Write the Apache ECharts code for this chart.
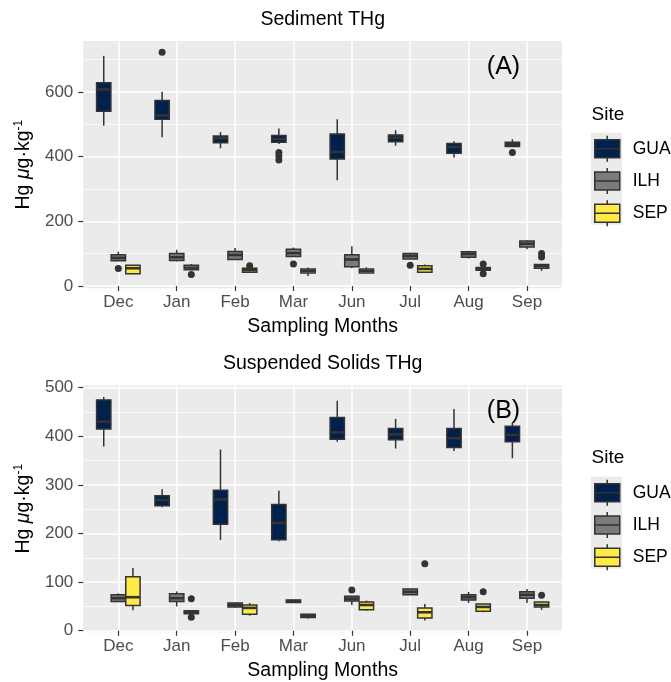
<!DOCTYPE html>
<html>
<head>
<meta charset="utf-8">
<script src="https://cdn.jsdelivr.net/npm/echarts@6/dist/echarts.min.js"></script>
<style>html,body{margin:0;padding:0;background:#fff}#c{width:671px;height:682px}</style>
</head>
<body>
<div id="c"></div>
<script>
// ---------- data ----------
const months = ['Dec', 'Jan', 'Feb', 'Mar', 'Jun', 'Jul', 'Aug', 'Sep'];
const sites = ['GUA', 'ILH', 'SEP'];
const yTicksA = [0, 200, 400, 600];
const yTicksB = [0, 100, 200, 300, 400, 500];

// five-number boxes: [lower whisker, Q1, median, Q3, upper whisker], one per month
const sedGUA = [[496,541,608,629,712],[460,516,528,574,601],[426,443,457,464,476],[439,445,455,466,487],
                [327,393,415,470,516],[434,446,459,467,482],[398,411,430,441,448],[432,432,438,445,454]];
const sedILH = [[78,78,87,97,106],[76,79,89,101,112],[82,82,96,107,118],[91,91,102,114,119],
                [55,60,82,97,123],[83,84,93,101,103],[85,89,99,106,109],[114,121,131,139,142]];
const sedSEP = [[38,38,55,64,64],[50,50,57,64,68],[43,43,49,55,55],[31,40,47,53,57],
                [40,40,47,53,58],[42,43,53,63,67],[46,49,53,57,60],[47,55,61,67,67]];
const sedGUAOut = [['Jan',723],['Mar',413],['Mar',402],['Mar',390],['Sep',413]];
const sedILHOut = [['Dec',54],['Mar',68],['Jul',64]];
const sedSEPOut = [['Jan',36],['Feb',63],['Aug',68],['Aug',38],['Sep',101],['Sep',90]];

const ssGUA = [[379,415,430,475,481],[254,257,269,278,291],[187,219,270,289,373],[184,187,222,260,288],
               [389,394,408,439,473],[375,393,404,416,436],[370,377,396,416,456],[355,389,403,421,428]];
const ssILH = [[60,60,67,74,77],[50,60,67,76,81],[48,49,53,57,58],[57,58,61,63,64],
               [53,61,66,71,71],[74,74,80,86,86],[57,63,69,74,80],[57,67,74,80,86]];
const ssSEP = [[42,52,69,111,129],[35,35,38,41,41],[31,34,47,53,57],[25,27,31,34,34],
               [41,43,53,59,62],[21,26,38,47,55],[38,40,49,55,55],[43,49,53,59,59]];
const ssGUAOut = [];
const ssILHOut = [['Jun',84]];
const ssSEPOut = [['Jan',66],['Jan',28],['Jul',138],['Aug',80],['Sep',73]];

// ---------- styling ----------
const FONT = 'Liberation Sans, Arial, Helvetica, sans-serif';
const fills = {GUA: '#00204D', ILH: '#7C7B78', SEP: '#FFEA46'};
const dodge = {GUA: -0.25, ILH: 0, SEP: 0.25};
const BOX_W = 0.245;
const OUTLINE = '#333333';

function renderBox(fill) {
  return function (params, api) {
    const x = api.value(0);
    const pLo = api.coord([x, api.value(1)]);
    const pQ1 = api.coord([x, api.value(2)]);
    const pMed = api.coord([x, api.value(3)]);
    const pQ3 = api.coord([x, api.value(4)]);
    const pHi = api.coord([x, api.value(5)]);
    const w = api.size([BOX_W, 0])[0];
    const cx = pMed[0];
    const ls = {stroke: OUTLINE, lineWidth: 1.5};
    return {type: 'group', children: [
      {type: 'line', shape: {x1: cx, y1: pHi[1], x2: cx, y2: pQ3[1]}, style: ls},
      {type: 'line', shape: {x1: cx, y1: pQ1[1], x2: cx, y2: pLo[1]}, style: ls},
      {type: 'rect', shape: {x: cx - w / 2, y: pQ3[1], width: w, height: pQ1[1] - pQ3[1]},
       style: {fill: fill, stroke: OUTLINE, lineWidth: 1.5}},
      {type: 'line', shape: {x1: cx - w / 2, y1: pMed[1], x2: cx + w / 2, y2: pMed[1]},
       style: {stroke: OUTLINE, lineWidth: 2.6}}
    ]};
  };
}

function boxSeries(site, boxes, gridIdx) {
  return {
    type: 'custom', name: site, xAxisIndex: gridIdx, yAxisIndex: gridIdx,
    renderItem: renderBox(fills[site]),
    itemStyle: {color: fills[site]},
    encode: {x: 0, y: [1, 2, 3, 4, 5]},
    data: boxes.map((b, i) => [i + 1 + dodge[site]].concat(b)),
    z: 2
  };
}
function outSeries(site, outs, gridIdx) {
  return {
    type: 'scatter', name: site + ' outliers', xAxisIndex: gridIdx, yAxisIndex: gridIdx,
    symbolSize: 7, itemStyle: {color: OUTLINE, opacity: 1},
    data: outs.map(o => [months.indexOf(o[0]) + 1 + dodge[site], o[1]]),
    z: 3
  };
}

const monthPos = months.map((m, i) => i + 1);

function xAxis(gridIdx) {
  return {
    type: 'value', gridIndex: gridIdx, min: 0.4, max: 8.6, splitNumber: 8,
    axisLine: {show: false},
    axisTick: {show: true, customValues: monthPos, length: 5, lineStyle: {color: OUTLINE, width: 1.2}},
    axisLabel: {customValues: monthPos, formatter: v => months[Math.round(v) - 1] || '',
                color: '#4D4D4D', fontSize: 17, margin: 6, fontFamily: FONT},
    splitLine: {show: true, lineStyle: {color: '#FFFFFF', width: 1.5}},
    name: 'Sampling Months', nameLocation: 'middle', nameGap: 28,
    nameTextStyle: {color: '#000', fontSize: 19.5, fontFamily: FONT}
  };
}
const yName = '{n|Hg }{i|\u03BC}{n|g\u00B7kg}{s|-1}';
const yRich = {
  n: {fontSize: 19.5, color: '#000', fontFamily: FONT},
  i: {fontSize: 19.5, color: '#000', fontStyle: 'italic', fontFamily: FONT},
  s: {fontSize: 12, color: '#000', fontFamily: FONT, padding: [0, 0, 10, 0]}
};
function yAxis(gridIdx, min, max, ticks) {
  return {
    type: 'value', gridIndex: gridIdx, min: min, max: max, splitNumber: 5,
    axisLine: {show: false},
    axisTick: {show: true, customValues: ticks, length: 5, lineStyle: {color: OUTLINE, width: 1.2}},
    axisLabel: {customValues: ticks, color: '#4D4D4D', fontSize: 17, margin: 10, fontFamily: FONT},
    splitLine: {show: true, lineStyle: {color: '#FFFFFF', width: 1.5}},
    minorTick: {show: false, splitNumber: 2},
    minorSplitLine: {show: true, lineStyle: {color: '#FFFFFF', width: 0.8}},
    name: yName, nameLocation: 'middle', nameRotate: 90, nameGap: 46,
    nameTextStyle: {rich: yRich}
  };
}

const legendIcon = 'path://M12.5,0L12.5,4M0,4L25,4L25,22L0,22ZM0,13L25,13M12.5,22L12.5,26';
function legend(top) {
  return {
    orient: 'vertical', left: 594, top: top, padding: 0,
    itemWidth: 25, itemHeight: 26, itemGap: 4.7,
    icon: legendIcon, data: sites,
    itemStyle: {borderColor: OUTLINE, borderWidth: 1.5},
    textStyle: {fontSize: 17.5, color: '#000', fontFamily: FONT, padding: [0, 0, 0, 8]},
    selectedMode: false
  };
}

function txt(x, y, s, size, align) {
  return {type: 'text', x: x, y: y, z: 10,
          style: {text: s, fontSize: size, fontFamily: FONT, fill: '#000',
                  textAlign: align || 'center', align: align || 'center',
                  textVerticalAlign: 'middle', verticalAlign: 'middle'}};
}

const option = {
  animation: false,
  backgroundColor: '#FFFFFF',
  textStyle: {fontFamily: FONT},
  grid: [
    {left: 83.3, top: 41, width: 478.7, height: 247.3, show: true, backgroundColor: '#EBEBEB',
     borderWidth: 0, containLabel: false, outerBoundsMode: 'none'},
    {left: 83.3, top: 385.3, width: 478.7, height: 246.9, show: true, backgroundColor: '#EBEBEB',
     borderWidth: 0, containLabel: false, outerBoundsMode: 'none'}
  ],
  xAxis: [xAxis(0), xAxis(1)],
  yAxis: [yAxis(0, -7, 758, yTicksA), yAxis(1, -3, 505, yTicksB)],
  legend: [legend(135), legend(479)],
  graphic: [
    {type: 'rect', shape: {x: 591, y: 132.7, width: 31, height: 92}, style: {fill: '#EBEBEB'}, z: 0},
    {type: 'rect', shape: {x: 591, y: 476.7, width: 31, height: 92}, style: {fill: '#EBEBEB'}, z: 0},
    txt(322.7, 20, 'Sediment THg', 19.5),
    txt(322.7, 364, 'Suspended Solids THg', 19.5),
    txt(591.5, 115, 'Site', 19, 'left'),
    txt(591.5, 458, 'Site', 19, 'left'),
    txt(503.5, 67, '(A)', 25),
    txt(503.5, 410.7, '(B)', 25)
  ],
  series: [
    boxSeries('GUA', sedGUA, 0), boxSeries('ILH', sedILH, 0), boxSeries('SEP', sedSEP, 0),
    boxSeries('GUA', ssGUA, 1), boxSeries('ILH', ssILH, 1), boxSeries('SEP', ssSEP, 1),
    outSeries('GUA', sedGUAOut, 0), outSeries('ILH', sedILHOut, 0), outSeries('SEP', sedSEPOut, 0),
    outSeries('GUA', ssGUAOut, 1), outSeries('ILH', ssILHOut, 1), outSeries('SEP', ssSEPOut, 1)
  ]
};

const chart = echarts.init(document.getElementById('c'), null, {renderer: 'canvas'});
chart.setOption(option);
</script>
</body>
</html>
